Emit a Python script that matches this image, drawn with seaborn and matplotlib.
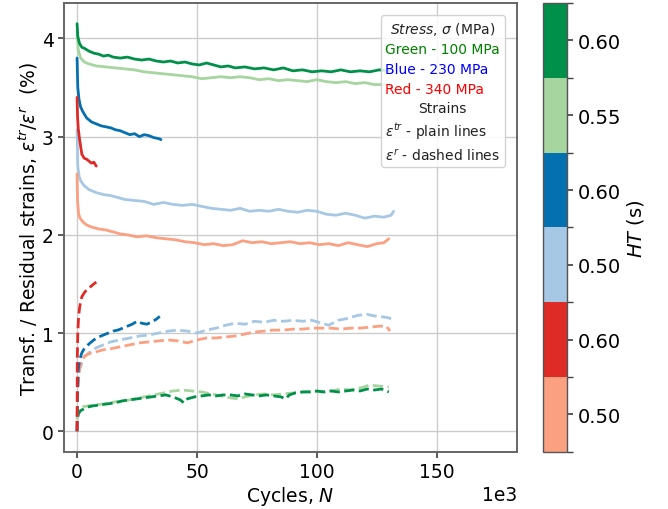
import numpy as np
import pandas as pd
import matplotlib
matplotlib.use("Agg")
import matplotlib.pyplot as plt
import seaborn as sns
from matplotlib.colors import ListedColormap, BoundaryNorm
from matplotlib.cm import ScalarMappable
from matplotlib.offsetbox import AnchoredOffsetbox, TextArea, VPacker

# ---------------------------------------------------------------- data
# number of cycles (thousands) and strain (%) for each test
# transformation strains (plain lines)
g60_tr_k = [0, 0.3, 1, 2, 3, 5, 7, 9, 11, 13, 15, 18, 21, 24, 27, 30, 33, 36, 39, 42, 45, 48,
            51, 54, 57, 60, 63, 66, 70, 74, 78, 82, 86, 90, 94, 98, 102, 106, 110, 114, 118,
            122, 126, 130]
g60_tr = [4.15, 4.02, 3.95, 3.91, 3.90, 3.87, 3.85, 3.84, 3.82, 3.83, 3.81, 3.80, 3.81, 3.79,
          3.78, 3.79, 3.77, 3.76, 3.77, 3.75, 3.76, 3.74, 3.73, 3.75, 3.73, 3.71, 3.72, 3.70,
          3.71, 3.69, 3.70, 3.68, 3.70, 3.67, 3.68, 3.66, 3.67, 3.66, 3.68, 3.66, 3.67, 3.66,
          3.68, 3.67]

g55_tr_k = [0, 0.5, 1.5, 3, 5, 8, 12, 16, 20, 24, 28, 32, 36, 40, 44, 48, 52, 56, 60, 64, 68,
            72, 76, 80, 84, 88, 92, 96, 100, 104, 108, 112, 116, 120, 124, 128, 131]
g55_tr = [4.07, 3.88, 3.80, 3.76, 3.74, 3.72, 3.71, 3.70, 3.69, 3.68, 3.66, 3.65, 3.64, 3.63,
          3.62, 3.61, 3.59, 3.60, 3.61, 3.60, 3.61, 3.60, 3.58, 3.59, 3.57, 3.58, 3.57, 3.56,
          3.58, 3.56, 3.55, 3.56, 3.54, 3.55, 3.53, 3.53, 3.52]

b60_tr_k = [0, 0.3, 0.8, 1.5, 2.5, 4, 6, 8, 10, 12, 14, 16, 18, 20, 22, 24, 26, 28, 30, 32,
            34, 35]
b60_tr = [3.80, 3.50, 3.38, 3.30, 3.25, 3.19, 3.15, 3.13, 3.11, 3.10, 3.09, 3.07, 3.06, 3.04,
          3.02, 3.03, 3.00, 3.02, 3.01, 2.99, 2.98, 2.97]

b50_tr_k = [0, 0.3, 0.8, 1.5, 3, 5, 8, 11, 14, 17, 20, 24, 28, 32, 36, 40, 44, 48, 52, 56, 60,
            64, 68, 72, 76, 80, 84, 88, 92, 96, 100, 104, 108, 112, 116, 120, 124, 128, 131, 132]
b50_tr = [3.07, 2.70, 2.60, 2.55, 2.50, 2.46, 2.43, 2.41, 2.40, 2.38, 2.36, 2.35, 2.34, 2.31,
          2.33, 2.31, 2.30, 2.31, 2.29, 2.27, 2.26, 2.25, 2.27, 2.24, 2.25, 2.24, 2.26, 2.24,
          2.23, 2.25, 2.24, 2.21, 2.20, 2.22, 2.20, 2.17, 2.19, 2.18, 2.20, 2.24]

r60_tr_k = [0, 0.2, 0.5, 1, 1.5, 2, 3, 4, 5, 6, 7, 8]
r60_tr = [3.40, 3.20, 3.08, 2.98, 2.90, 2.82, 2.78, 2.77, 2.75, 2.73, 2.74, 2.70]

r50_tr_k = [0, 0.2, 0.6, 1.2, 2.5, 4, 6, 9, 12, 15, 18, 21, 25, 29, 33, 37, 41, 45, 49, 53,
            57, 61, 65, 69, 73, 77, 81, 85, 89, 93, 97, 101, 105, 109, 113, 117, 121, 125,
            128, 130]
r50_tr = [2.62, 2.35, 2.22, 2.17, 2.13, 2.10, 2.08, 2.06, 2.05, 2.03, 2.01, 2.00, 1.98, 1.99,
          1.97, 1.96, 1.95, 1.93, 1.92, 1.90, 1.91, 1.89, 1.90, 1.94, 1.92, 1.93, 1.91, 1.92,
          1.93, 1.91, 1.92, 1.90, 1.91, 1.89, 1.92, 1.90, 1.88, 1.91, 1.92, 1.96]

# residual strains (dashed lines)
g60_r_k = [0, 0.2, 0.6, 1.5, 3, 5, 7, 10, 13, 16, 19, 22, 25, 28, 31, 34, 37, 40, 43, 44.5,
           46, 49, 52, 55, 58, 61, 64, 67, 70, 73, 76, 79, 82, 85, 87, 88.5, 91, 94, 97, 100,
           103, 106, 109, 112, 115, 118, 121, 124, 127, 130]
g60_r = [0.0, 0.12, 0.18, 0.21, 0.23, 0.25, 0.26, 0.27, 0.28, 0.29, 0.31, 0.32, 0.33, 0.34,
         0.35, 0.36, 0.37, 0.35, 0.32, 0.29, 0.33, 0.35, 0.36, 0.37, 0.36, 0.37, 0.37, 0.36,
         0.38, 0.37, 0.36, 0.37, 0.36, 0.35, 0.33, 0.37, 0.39, 0.40, 0.40, 0.41, 0.40, 0.41,
         0.40, 0.41, 0.42, 0.41, 0.43, 0.42, 0.43, 0.40]

g55_r_k = [0, 0.3, 1, 2.5, 5, 8, 12, 16, 20, 24, 28, 32, 36, 40, 44, 48, 52, 56, 60, 64, 67,
           70, 74, 78, 82, 86, 90, 94, 98, 102, 106, 110, 114, 118, 122, 126, 130]
g55_r = [0.12, 0.20, 0.23, 0.25, 0.26, 0.27, 0.28, 0.30, 0.31, 0.33, 0.35, 0.37, 0.39, 0.41,
         0.42, 0.41, 0.40, 0.38, 0.36, 0.34, 0.33, 0.35, 0.37, 0.38, 0.37, 0.38, 0.39, 0.40,
         0.41, 0.40, 0.41, 0.43, 0.42, 0.44, 0.47, 0.46, 0.45]

b60_r_k = [0, 0.2, 0.5, 1, 2, 3, 5, 7, 9, 11, 13, 15, 17, 19, 21, 23, 25, 27, 29, 31, 33, 34.5]
b60_r = [0.0, 0.40, 0.62, 0.72, 0.80, 0.84, 0.89, 0.93, 0.96, 0.98, 1.00, 1.02, 1.03, 1.05,
         1.07, 1.09, 1.12, 1.10, 1.09, 1.11, 1.14, 1.17]

b50_r_k = [0, 0.3, 1, 2, 3, 5, 8, 11, 14, 18, 22, 26, 30, 34, 38, 42, 46, 50, 54, 58, 62, 66,
           70, 74, 78, 82, 86, 90, 94, 98, 102, 105, 109, 113, 117, 121, 125, 129, 132]
b50_r = [0.0, 0.45, 0.62, 0.70, 0.76, 0.80, 0.85, 0.88, 0.91, 0.93, 0.95, 0.97, 0.98, 1.00,
         1.02, 1.03, 1.02, 1.00, 1.03, 1.05, 1.08, 1.10, 1.09, 1.12, 1.11, 1.13, 1.12, 1.13,
         1.12, 1.13, 1.10, 1.08, 1.13, 1.15, 1.18, 1.19, 1.17, 1.16, 1.14]

r60_r_k = [0, 0.1, 0.3, 0.6, 1, 1.5, 2, 3, 4, 5, 6, 7, 8]
r60_r = [0.0, 0.75, 1.00, 1.15, 1.25, 1.32, 1.37, 1.41, 1.44, 1.46, 1.48, 1.50, 1.52]

r50_r_k = [0, 0.3, 1, 2, 3, 5, 8, 11, 14, 18, 22, 26, 30, 34, 38, 42, 46, 50, 54, 58, 62, 66,
           70, 74, 78, 82, 86, 90, 94, 98, 102, 106, 110, 114, 118, 122, 126, 129, 130.5]
r50_r = [0.0, 0.45, 0.64, 0.72, 0.76, 0.79, 0.81, 0.83, 0.84, 0.86, 0.88, 0.90, 0.91, 0.92,
         0.93, 0.92, 0.90, 0.93, 0.95, 0.95, 0.96, 0.97, 0.99, 1.01, 1.02, 1.03, 1.03, 1.04,
         1.04, 1.05, 1.05, 1.05, 1.04, 1.05, 1.05, 1.06, 1.07, 1.07, 1.02]

# heat-treatment times, bottom to top of the colour bar
ht_labels = ["0.50", "0.60", "0.50", "0.60", "0.55", "0.60"]
ht_colors = ["#fca082", "#de2b26", "#a6c8e4", "#0570b0", "#a6d5a0", "#00904a"]

legend_lines = ["Green - 100 MPa", "Blue - 230 MPa", "Red - 340 MPa"]
legend_colors = ["green", "blue", "red"]

# ---------------------------------------------------------------- style
sns.set_theme(style="whitegrid", rc={
    "axes.edgecolor": "#666666",
    "axes.linewidth": 1.4,
    "grid.color": "#cccccc",
    "grid.linewidth": 1.0,
    "xtick.bottom": True,
    "ytick.left": True,
    "xtick.color": "#444444",
    "ytick.color": "#444444",
    "xtick.labelcolor": "black",
    "ytick.labelcolor": "black",
    "xtick.major.size": 4,
    "ytick.major.size": 4,
    "text.color": "black",
    "axes.labelcolor": "black",
})
plt.rcParams["font.family"] = ["DejaVu Sans"]
plt.rcParams["mathtext.fontset"] = "dejavusans"

fig = plt.figure(figsize=(6.68, 5.10), dpi=100)
ax = fig.add_axes([0.096, 0.112, 0.678, 0.880])
cax = fig.add_axes([0.813, 0.112, 0.036, 0.880])

series = [
    (g55_tr_k, g55_tr, ht_colors[4], "-"),
    (g60_tr_k, g60_tr, ht_colors[5], "-"),
    (b50_tr_k, b50_tr, ht_colors[2], "-"),
    (b60_tr_k, b60_tr, ht_colors[3], "-"),
    (r50_tr_k, r50_tr, ht_colors[0], "-"),
    (r60_tr_k, r60_tr, ht_colors[1], "-"),
    (g55_r_k, g55_r, ht_colors[4], "--"),
    (g60_r_k, g60_r, ht_colors[5], "--"),
    (b50_r_k, b50_r, ht_colors[2], "--"),
    (r50_r_k, r50_r, ht_colors[0], "--"),
    (b60_r_k, b60_r, ht_colors[3], "--"),
    (r60_r_k, r60_r, ht_colors[1], "--"),
]
for k, s, c, ls in series:
    df = pd.DataFrame({"N": np.asarray(k) * 1000.0, "strain": s})
    sns.lineplot(data=df, x="N", y="strain", color=c, linestyle=ls, linewidth=2.0,
                 estimator=None, ax=ax)

ax.set_xlim(-5400, 183500)
ax.set_ylim(-0.21, 4.36)
ax.set_xticks([0, 50000, 100000, 150000])
ax.set_yticks([0, 1, 2, 3, 4])
ax.ticklabel_format(axis="x", style="sci", scilimits=(3, 3))
ax.tick_params(labelsize=13.5)
ax.xaxis.get_offset_text().set_fontsize(13.5)
ax.set_xlabel("Cycles, $N$", fontsize=13.5, labelpad=2)
ax.set_ylabel(r"Transf. / Residual strains, $\varepsilon^{tr}/\varepsilon^{r}$  (%)",
              fontsize=13.5, labelpad=1)
for sp in ax.spines.values():
    sp.set_visible(True)

# legend-like annotation box
fs = 10
title = TextArea(r"$Stress$, $\sigma$ (MPa)", textprops=dict(color="#222222", fontsize=fs))
stress_rows = [TextArea(t, textprops=dict(color=c, fontsize=fs))
               for t, c in zip(legend_lines, legend_colors)]
strains = TextArea("Strains", textprops=dict(color="#222222", fontsize=fs))
eps_rows = [TextArea(r"$\varepsilon^{tr}$ - plain lines", textprops=dict(color="#222222", fontsize=fs)),
            TextArea(r"$\varepsilon^{r}$ - dashed lines", textprops=dict(color="#222222", fontsize=fs))]
sep = 4
box = VPacker(children=[title,
                        VPacker(children=stress_rows, align="left", pad=0, sep=sep),
                        strains,
                        VPacker(children=eps_rows, align="left", pad=0, sep=sep)],
              align="center", pad=0, sep=sep)
anchored = AnchoredOffsetbox(loc="upper right", child=box, pad=0.3, borderpad=0.8,
                             frameon=True)
anchored.patch.set_boxstyle("round,pad=0,rounding_size=0.2")
anchored.patch.set_edgecolor("#cccccc")
anchored.patch.set_facecolor("white")
anchored.patch.set_alpha(0.85)
ax.add_artist(anchored)

# colour bar of heat-treatment times
cmap = ListedColormap(ht_colors)
norm = BoundaryNorm(np.arange(len(ht_colors) + 1), cmap.N)
sm = ScalarMappable(norm=norm, cmap=cmap)
cb = fig.colorbar(sm, cax=cax, ticks=np.arange(len(ht_colors)) + 0.5)
cb.ax.set_yticklabels(ht_labels)
cb.ax.tick_params(labelsize=14, length=4, color="#444444", right=True)
cb.outline.set_edgecolor("#555555")
cb.outline.set_linewidth(1.0)
cb.set_label("$HT$ (s)", fontsize=14, labelpad=3)

fig.savefig("out.png", dpi=100)
